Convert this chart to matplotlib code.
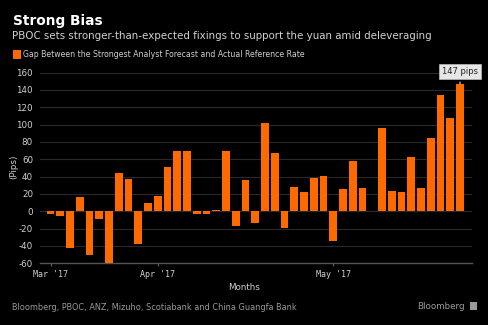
import numpy as np
import matplotlib
matplotlib.use("Agg")
import matplotlib.pyplot as plt

# Daily gap between strongest analyst forecast and PBOC reference rate (pips)
gap_pips = [-3, -5, -42, 17, -50, -9, -60, 44, 37, -38,
            10, 18, 51, 69, 70, -3, -3, 2, 70, -17,
            36, -13, 102, 67, -19, 28, 22, 38, 41, -34,
            26, 58, 27, np.nan, 96, 23, 22, 63, 27, 84,
            134, 108, 147]
month_ticks = [0, 11, 29]
month_labels = ["Mar '17", "Apr '17", "May '17"]
y_ticks = list(range(-60, 161, 20))

ORANGE = "#ff6a00"
BG = "#000000"
GRID = "#2a2a2a"
TXT = "#d0d0d0"

fig = plt.figure(figsize=(4.88, 3.25), dpi=100, facecolor=BG)
ax = fig.add_axes([0.082, 0.19, 0.8846, 0.5866], facecolor=BG)

x = np.arange(len(gap_pips))
vals = np.array(gap_pips, dtype=float)
mask = ~np.isnan(vals)
ax.bar(x[mask], vals[mask], width=0.78, color=ORANGE, zorder=3)

ax.set_ylim(-60, 160)
ax.set_xlim(-1.08, 43.2)
ax.set_yticks(y_ticks)
ax.set_yticklabels([str(v) for v in y_ticks], fontsize=6.3, color=TXT)
ax.set_xticks(month_ticks)
ax.set_xticklabels(month_labels, fontsize=6, color=TXT, family="DejaVu Sans Mono")
ax.tick_params(axis="y", length=0, pad=5)
ax.tick_params(axis="x", length=2, color="#666666", pad=3)
ax.grid(axis="y", color=GRID, linewidth=0.8, zorder=0)
for s in ["top", "right", "left"]:
    ax.spines[s].set_visible(False)
ax.spines["bottom"].set_color("#555555")
ax.spines["bottom"].set_linewidth(1.0)

# Axis titles
fig.text(13.5 / 488, 1 - 167 / 325, "(Pips)", rotation=90, fontsize=6.3, color=TXT,
         ha="center", va="center")
fig.text(0.5, 1 - 288 / 325, "Months", fontsize=6.3, color=TXT, ha="center", va="center")

# Callout on the latest value
last = len(gap_pips) - 1
ax.annotate(f"{int(gap_pips[last])} pips", xy=(last, gap_pips[last]),
            xytext=(last, gap_pips[last] + 9), ha="center", va="bottom",
            fontsize=6, color="#222222",
            bbox=dict(boxstyle="square,pad=0.35", fc="#e6e6e6", ec="#bbbbbb", lw=0.5),
            arrowprops=dict(arrowstyle="-", color="#e6e6e6", lw=0.8),
            annotation_clip=False, zorder=5)

# Titles and legend
fig.text(0.027, 0.936, "Strong Bias", fontsize=9.9, fontweight="bold", color="white", va="center")
fig.text(0.025, 0.888, "PBOC sets stronger-than-expected fixings to support the yuan amid deleveraging",
         fontsize=7.4, color=TXT, va="center")
fig.patches.append(plt.Rectangle((0.027, 0.820), 0.016, 0.025, transform=fig.transFigure,
                                 facecolor=ORANGE, edgecolor="none"))
fig.text(0.047, 0.832, "Gap Between the Strongest Analyst Forecast and Actual Reference Rate",
         fontsize=5.55, color=TXT, va="center")

# Footer
fig.text(0.025, 0.055, "Bloomberg, PBOC, ANZ, Mizuho, Scotiabank and China Guangfa Bank",
         fontsize=5.9, color="#9a9a9a", va="center")
fig.text(0.953, 0.058, "Bloomberg", fontsize=6.3, color="#9a9a9a", va="center", ha="right")
fig.patches.append(plt.Rectangle((0.963, 0.045), 0.015, 0.026, transform=fig.transFigure,
                                 facecolor="#9a9a9a", edgecolor="none"))

fig.savefig("out.png", dpi=100, facecolor=BG)
